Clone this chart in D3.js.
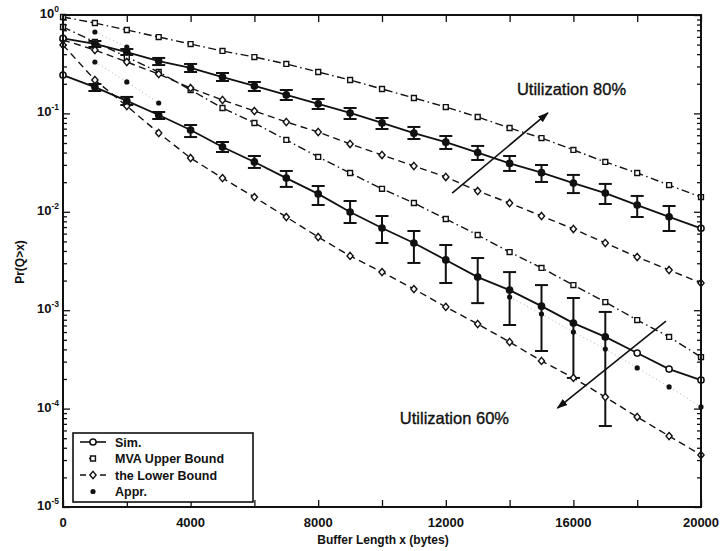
<!DOCTYPE html>
<html>
<head>
<meta charset="utf-8">
<script src="https://cdn.jsdelivr.net/npm/d3@7/dist/d3.min.js"></script>
<style>
  html, body { margin: 0; padding: 0; background: #fff; }
  svg { display: block; }
  text { font-family: "Liberation Sans", Arial, Helvetica, sans-serif; fill: #111; }
</style>
</head>
<body>
<svg id="chart" width="721" height="551"></svg>
<script>
// Buffer lengths (bytes) at which every curve is evaluated
const bufferX = [0,1000,2000,3000,4000,5000,6000,7000,8000,9000,10000,
                 11000,12000,13000,14000,15000,16000,17000,18000,19000,20000];

// Utilization 80%: simulation with confidence interval, MVA upper bound, lower bound
const sim80   = [0.58,0.51,0.42,0.34,0.29,0.234,0.19,0.154,0.125,0.101,0.080,
                 0.063,0.051,0.040,0.031,0.025,0.0196,0.0155,0.0117,0.0089,0.0068];
const sim80Lo = [null,0.473,0.392,0.310,0.2634,0.2135,0.169,0.1368,0.1109,0.0877,0.0694,
                 0.0549,0.0435,0.0336,0.0260,0.0201,0.0155,0.0120,0.00885,0.00638,null];
const sim80Hi = [null,0.544,0.451,0.366,0.318,0.2574,0.2086,0.173,0.140,0.1135,0.0898,
                 0.0728,0.0589,0.0467,0.0369,0.0299,0.0237,0.0192,0.01449,0.01145,null];
const ub80    = [0.954,0.829,0.704,0.597,0.507,0.431,0.374,0.318,0.2634,0.2185,0.177,
                 0.1434,0.116,0.0919,0.0711,0.0562,0.0425,0.0321,0.0248,0.0187,0.0141];
const lb80    = [0.557,0.441,0.333,0.251,0.181,0.1368,0.1057,0.0818,0.0647,0.0489,0.0378,
                 0.0292,0.0226,0.01626,0.01228,0.00906,0.00669,0.00482,0.00347,0.00256,0.00189];

// Utilization 60%
const sim60   = [0.245,0.185,0.134,0.0964,0.0678,0.0456,0.0321,0.0220,0.0152,0.00995,0.00684,
                 0.00482,0.00324,0.00217,0.00160,0.00110,0.00074,0.000535,0.000367,0.000252,0.000195];
const sim60Lo = [null,0.169,0.1217,0.0877,0.0575,0.0405,0.0279,0.0179,0.01173,0.00769,0.00482,
                 0.00302,0.00189,0.00118,0.000707,0.000385,0.000205,0.0000665,null,null,null];
const sim60Hi = [null,0.199,0.147,0.1033,0.0762,0.0512,0.0369,0.0260,0.0183,0.01288,0.00906,
                 0.00638,0.00460,0.00339,0.00244,0.00180,0.00133,0.00096,null,null,null];
const ub60    = [0.755,0.532,0.374,0.2634,0.173,0.1135,0.0799,0.0537,0.0361,0.0248,0.0171,
                 0.01228,0.00845,0.00581,0.00390,0.00269,0.00180,0.00121,0.000794,0.000535,0.000334];
const lb60    = [0.496,0.2185,0.1189,0.0632,0.0352,0.0220,0.0141,0.00885,0.00554,0.00356,0.00244,
                 0.00164,0.00108,0.000724,0.000475,0.000305,0.000205,0.000131,0.0000822,0.0000526,0.0000338];

// Approximation points that stand apart from the other curves
const appr80X = [1000,2000];
const appr80  = [0.672,0.473];
const appr60X = [1000,2000,3000,14000,15000,16000,17000,18000,19000,20000];
const appr60  = [0.333,0.209,0.1276,0.00136,0.000915,0.0006,0.000403,0.000259,0.000166,0.000104];

// Axis ticks and labels
const xTickValues = [0,2000,4000,6000,8000,10000,12000,14000,16000,18000,20000];
const xTickLabels = ["0","4000","8000","12000","16000","20000"];
const yDecades    = [1,1e-1,1e-2,1e-3,1e-4,1e-5];
const yExponents  = ["0","-1","-2","-3","-4","-5"];

const legendLabels = ["Sim.","MVA Upper Bound","the Lower Bound","Appr."];

// Annotation arrows (bytes, probability)
const arrow80 = { from:[12200,0.0155], to:[15200,0.101], label:"Utilization 80%", at:[14230,0.154] };
const arrow60 = { from:[18900,0.000776], to:[15500,0.000101], label:"Utilization 60%", at:[10560,0.0000697] };

const svg = d3.select("#chart");
const plot = { left:63, right:701, top:15, bottom:507 };

const x = d3.scaleLinear().domain([0,20000]).range([plot.left, plot.right]);
const y = d3.scaleLog().domain([1e-5,1]).range([plot.bottom, plot.top]);

const defs = svg.append("defs");
defs.append("clipPath").attr("id","clip").append("rect")
  .attr("x",plot.left-4).attr("y",plot.top-4)
  .attr("width",plot.right-plot.left+8).attr("height",plot.bottom-plot.top+8);
defs.append("marker").attr("id","head").attr("viewBox","0 0 10 10")
  .attr("refX",9).attr("refY",5).attr("markerWidth",11).attr("markerHeight",11)
  .attr("markerUnits","userSpaceOnUse").attr("orient","auto")
  .append("path").attr("d","M0,1.5 L10,5 L0,8.5 Z").attr("fill","#111");

// ---- axes: inward ticks on all four sides ----
const minorY = [];
for (let e = -5; e < 0; e++) for (let m = 1; m < 10; m++) minorY.push(m * Math.pow(10, e));
minorY.push(1);

function yAxisTicks(axisGen, xpos) {
  const g = svg.append("g").attr("transform",`translate(${xpos},0)`);
  g.call(axisGen.tickValues(minorY).tickFormat("")
    .tickSizeInner(0).tickSizeOuter(0));
  g.selectAll(".tick line")
    .attr("x2", d => {
      const major = yDecades.some(v => Math.abs(Math.log10(d) - Math.log10(v)) < 1e-9);
      const len = major ? 7 : 4;
      return xpos === plot.left ? len : -len;
    })
    .attr("stroke","#111").attr("stroke-width",1.3);
  g.select(".domain").remove();
}
yAxisTicks(d3.axisLeft(y), plot.left);
yAxisTicks(d3.axisRight(y), plot.right);

function xAxisTicks(axisGen, ypos, dir) {
  const g = svg.append("g").attr("transform",`translate(0,${ypos})`);
  g.call(axisGen.tickValues(xTickValues).tickFormat("").tickSizeInner(0).tickSizeOuter(0));
  g.selectAll(".tick line").attr("y2", 7 * dir).attr("stroke","#111").attr("stroke-width",1.3);
  g.select(".domain").remove();
}
xAxisTicks(d3.axisBottom(x), plot.bottom, -1);
xAxisTicks(d3.axisTop(x), plot.top, 1);

// tick labels
svg.append("g").selectAll("text").data(xTickLabels).join("text")
  .attr("x", d => x(+d)).attr("y", 527)
  .attr("text-anchor","middle").attr("font-size",13).attr("font-weight","bold")
  .text(d => d);

const yLab = svg.append("g").selectAll("text").data(yDecades).join("text")
  .attr("x", 59).attr("y", d => y(d) + 3)
  .attr("text-anchor","end").attr("font-size",13).attr("font-weight","bold");
yLab.append("tspan").text("10");
yLab.append("tspan").attr("dy",-6).attr("font-size",8.5).text((d,i) => yExponents[i]);

// axis titles
svg.append("text").attr("x",383).attr("y",544).attr("text-anchor","middle")
  .attr("font-size",12).attr("font-weight","bold").text("Buffer Length x (bytes)");
svg.append("text").attr("transform","translate(24,262) rotate(-90)").attr("text-anchor","middle")
  .attr("font-size",12).attr("font-weight","bold").text("Pr(Q>x)");

// ---- curves ----
const layer = svg.append("g").attr("clip-path","url(#clip)");
const lineGen = d3.line().x(d => x(d[0])).y(d => y(d[1]));
const pairs = vals => bufferX.map((b,i) => [b, vals[i]]);

const DASH = "7,4.5";
const DASHDOT = "8,3.5,1.5,3.5";

function drawCurve(vals, dash, width) {
  layer.append("path").datum(pairs(vals)).attr("d", lineGen)
    .attr("fill","none").attr("stroke","#111").attr("stroke-width",width)
    .attr("stroke-dasharray", dash);
}
drawCurve(ub80, DASHDOT, 1.4);
drawCurve(lb80, DASH, 1.4);
drawCurve(ub60, DASHDOT, 1.4);
drawCurve(lb60, DASH, 1.4);
drawCurve(sim80, null, 1.8);
drawCurve(sim60, null, 1.8);

// faint dotted line through consecutive approximation points
function runs(xs, vs) {
  const out = []; let cur = [];
  xs.forEach((b,i) => {
    if (cur.length && b - cur[cur.length-1][0] !== 1000) { out.push(cur); cur = []; }
    cur.push([b, vs[i]]);
  });
  if (cur.length) out.push(cur);
  return out.filter(r => r.length > 1);
}
[...runs(appr80X, appr80), ...runs(appr60X, appr60)].forEach(r => {
  layer.append("path").datum(r).attr("d", lineGen).attr("fill","none")
    .attr("stroke","#999").attr("stroke-width",0.8).attr("stroke-dasharray","1,3");
});

// error bars
function drawErrorBars(lo, hi) {
  const idx = bufferX.map((b,i) => i).filter(i => lo[i] != null);
  const g = layer.append("g").attr("stroke","#111").attr("stroke-width",2);
  idx.forEach(i => {
    const cx = x(bufferX[i]);
    g.append("line").attr("x1",cx).attr("x2",cx).attr("y1",y(hi[i])).attr("y2",y(lo[i]));
    g.append("line").attr("x1",cx-6.5).attr("x2",cx+6.5).attr("y1",y(hi[i])).attr("y2",y(hi[i]));
    g.append("line").attr("x1",cx-6.5).attr("x2",cx+6.5).attr("y1",y(lo[i])).attr("y2",y(lo[i]));
  });
}
drawErrorBars(sim80Lo, sim80Hi);
drawErrorBars(sim60Lo, sim60Hi);

// markers
const sq = d3.symbol().type(d3.symbolSquare).size(24)();
const dia = "M0,-3.6L3.1,0L0,3.6L-3.1,0Z";
const circ = d3.symbol().type(d3.symbolCircle).size(30)();

function drawMarkers(xs, vals, path, fillFn, sw) {
  layer.append("g").selectAll("path").data(xs.map((b,i) => [b, vals[i], i])).join("path")
    .attr("d", path)
    .attr("transform", d => `translate(${x(d[0])},${y(d[1])})`)
    .attr("fill", d => fillFn(d[2])).attr("stroke","#111").attr("stroke-width",sw);
}
drawMarkers(bufferX, ub80, sq, () => "#fff", 1.4);
drawMarkers(bufferX, ub60, sq, () => "#fff", 1.4);
drawMarkers(bufferX, lb80, dia, () => "#fff", 1.4);
drawMarkers(bufferX, lb60, dia, () => "#fff", 1.4);
drawMarkers(bufferX, sim80, circ, i => sim80Lo[i] != null ? "#111" : "#fff", 1.5);
drawMarkers(bufferX, sim60, circ, i => sim60Lo[i] != null ? "#111" : "#fff", 1.5);

function drawDots(xs, vals) {
  layer.append("g").selectAll("circle").data(xs.map((b,i) => [b, vals[i]])).join("circle")
    .attr("cx", d => x(d[0])).attr("cy", d => y(d[1])).attr("r", 2.6).attr("fill","#111");
}
drawDots(appr80X, appr80);
drawDots(appr60X, appr60);

// frame
svg.append("rect").attr("x",plot.left).attr("y",plot.top)
  .attr("width",plot.right-plot.left).attr("height",plot.bottom-plot.top)
  .attr("fill","none").attr("stroke","#111").attr("stroke-width",2);

// annotations
[arrow80, arrow60].forEach(a => {
  svg.append("line")
    .attr("x1", x(a.from[0])).attr("y1", y(a.from[1]))
    .attr("x2", x(a.to[0])).attr("y2", y(a.to[1]))
    .attr("stroke","#111").attr("stroke-width",1.6).attr("marker-end","url(#head)");
  svg.append("text").attr("x", x(a.at[0])).attr("y", y(a.at[1]))
    .attr("font-size",16.5).attr("stroke","#111").attr("stroke-width",0.35).text(a.label);
});

// legend
const lg = svg.append("g");
const lgBox = { x:73, y:433, w:180, h:69 };
lg.append("rect").attr("x",lgBox.x).attr("y",lgBox.y).attr("width",lgBox.w).attr("height",lgBox.h)
  .attr("fill","#fff").attr("stroke","#111").attr("stroke-width",1.6);
const rowY = i => lgBox.y + 9 + i * 16.5;
const sx0 = 80, sx1 = 106, smid = 93;
// Sim.
lg.append("line").attr("x1",sx0).attr("x2",sx1).attr("y1",rowY(0)).attr("y2",rowY(0))
  .attr("stroke","#111").attr("stroke-width",1.6);
lg.append("path").attr("d",circ).attr("transform",`translate(${smid},${rowY(0)})`)
  .attr("fill","#fff").attr("stroke","#111").attr("stroke-width",1.5);
// MVA Upper Bound
lg.append("line").attr("x1",sx0).attr("x2",sx1).attr("y1",rowY(1)).attr("y2",rowY(1))
  .attr("stroke","#111").attr("stroke-width",1.4).attr("stroke-dasharray","0,9,2,15");
lg.append("path").attr("d",sq).attr("transform",`translate(${smid},${rowY(1)})`)
  .attr("fill","#fff").attr("stroke","#111").attr("stroke-width",1.4);
// the Lower Bound
lg.append("line").attr("x1",sx0).attr("x2",sx1).attr("y1",rowY(2)).attr("y2",rowY(2))
  .attr("stroke","#111").attr("stroke-width",1.4).attr("stroke-dasharray","6,4");
lg.append("path").attr("d",dia).attr("transform",`translate(${smid},${rowY(2)})`)
  .attr("fill","#fff").attr("stroke","#111").attr("stroke-width",1.4);
// Appr.
lg.append("circle").attr("cx",smid).attr("cy",rowY(3)).attr("r",2.6).attr("fill","#111");

lg.selectAll("text.lbl").data(legendLabels).join("text").attr("class","lbl")
  .attr("x",115).attr("y",(d,i) => rowY(i) + 4.5)
  .attr("font-size",12.5).attr("font-weight","bold").text(d => d);
</script>
</body>
</html>
